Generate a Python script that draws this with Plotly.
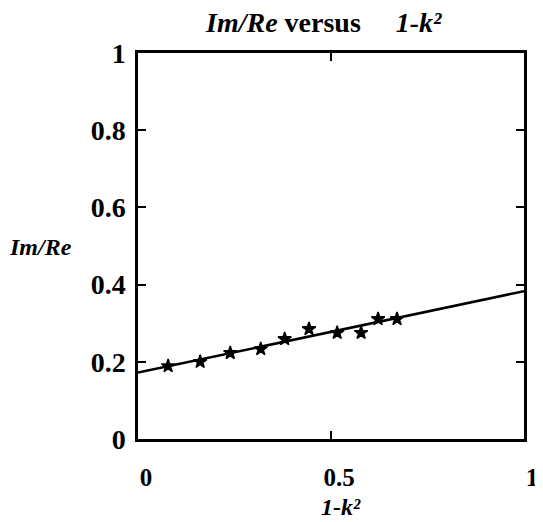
import plotly.graph_objects as go

# measured points
x_data = [0.078, 0.161, 0.239, 0.318, 0.380, 0.443, 0.516, 0.578, 0.622, 0.671]
y_data = [0.189, 0.200, 0.223, 0.233, 0.259, 0.285, 0.275, 0.275, 0.311, 0.311]

# fitted line
fit_x = [0.0, 1.0]
fit_y = [0.172, 0.383]

tick_vals_x = [0, 0.5, 1]
tick_text_x = ["0", "0.5", "1"]
tick_vals_y = [0, 0.2, 0.4, 0.6, 0.8, 1]
tick_text_y = ["0", "0.2", "0.4", "0.6", "0.8", "1"]

FONT = "Liberation Serif, Times New Roman, serif"

fig = go.Figure()
fig.add_trace(go.Scatter(x=fit_x, y=fit_y, mode="lines",
                         line=dict(color="black", width=2.5), showlegend=False))
fig.add_trace(go.Scatter(x=x_data, y=y_data, mode="markers",
                         marker=dict(symbol="star", size=10, color="black",
                                     line=dict(color="black", width=1.5)),
                         showlegend=False))

axis_common = dict(showgrid=False, zeroline=False, showline=True, linecolor="black",
                   linewidth=2.5, mirror="ticks", ticks="inside", ticklen=8,
                   tickwidth=2, tickcolor="black")

fig.update_xaxes(range=[0, 1], tickvals=tick_vals_x, ticktext=["<b>%s</b>" % t for t in tick_text_x],
                 ticklabelstandoff=14, ticklabelshift=8,
                 tickfont=dict(family=FONT, size=25, color="black"), **axis_common)
fig.update_yaxes(range=[0, 1], tickvals=tick_vals_y, ticktext=["<b>%s</b>" % t for t in tick_text_y],
                 ticklabelstandoff=4,
                 tickfont=dict(family=FONT, size=28, color="black"), **axis_common)

fig.update_layout(
    width=543, height=522,
    margin=dict(l=130, r=27, t=45, b=91),
    plot_bgcolor="white", paper_bgcolor="white",
    font=dict(family=FONT, color="black"),
    annotations=[
        dict(text="<b><i>Im/Re</i> versus&nbsp;&nbsp;&nbsp;&nbsp;&nbsp;<i>1-k²</i></b>", xref="paper", yref="paper",
             x=0.48, y=1, yshift=31, showarrow=False, font=dict(family=FONT, size=28),
             xanchor="center", yanchor="middle"),
        dict(text="<b><i>1-k²</i></b>", xref="paper", yref="paper",
             x=0.5, xshift=10, y=0, yshift=-68, showarrow=False, font=dict(family=FONT, size=24),
             xanchor="center", yanchor="middle"),
        dict(text="<b><i>Im/Re</i></b>", xref="paper", yref="paper",
             x=0, xshift=-64, y=0.497, showarrow=False, font=dict(family=FONT, size=24),
             xanchor="right", yanchor="middle"),
    ],
)

fig.write_html("out.html")
